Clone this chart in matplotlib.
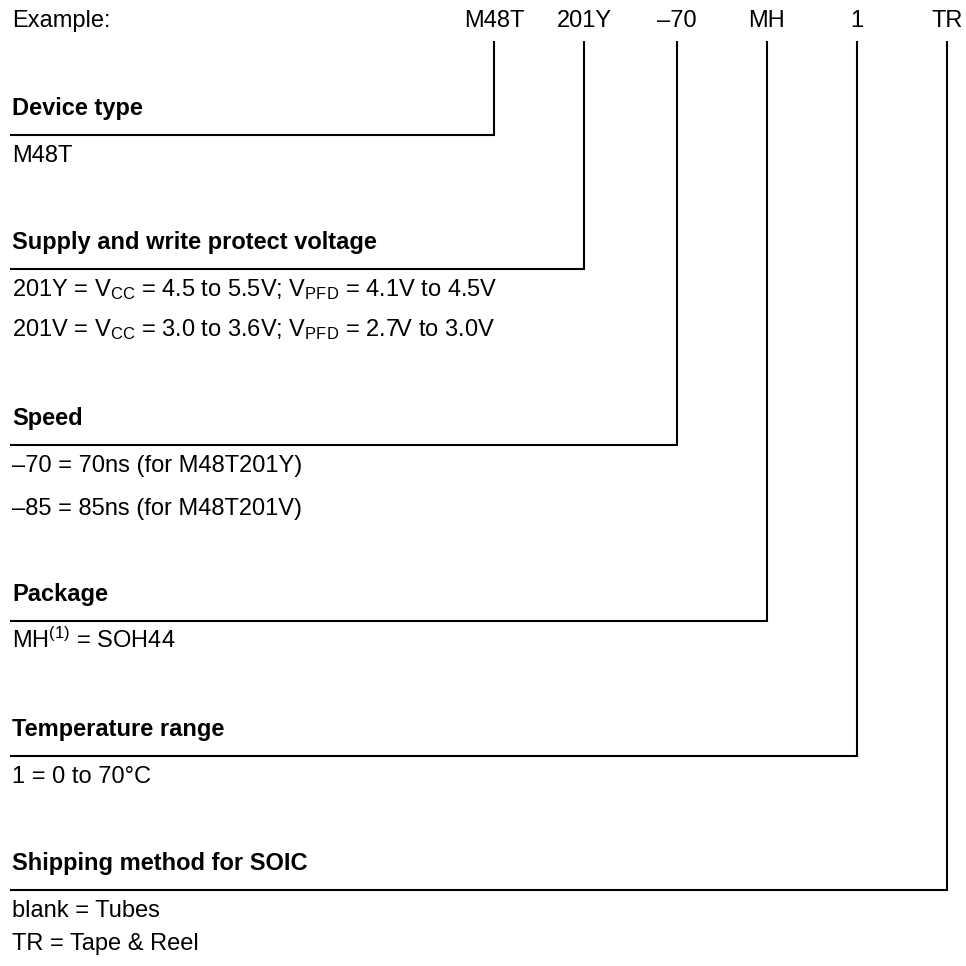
import matplotlib
matplotlib.use("Agg")
import matplotlib.pyplot as plt

# ---- content ----
example_label = "Example:"
codes = ["M48T", "201Y", "–70", "MH", "1", "TR"]
headings = [
    "Device type",
    "Supply and write protect voltage",
    "Speed",
    "Package",
    "Temperature range",
    "Shipping method for SOIC",
]
options = [
    ["M48T"],
    [r"201Y = V$_{\mathrm{CC}}$ = 4.5 to 5.5V; V$_{\mathrm{PFD}}$ = 4.1V to 4.5V",
     r"201V = V$_{\mathrm{CC}}$ = 3.0 to 3.6V; V$_{\mathrm{PFD}}$ = 2.7V to 3.0V"],
    ["–70 = 70ns (for M48T201Y)", "–85 = 85ns (for M48T201V)"],
    [r"MH$^{\mathrm{(1)}}$ = SOH44"],
    ["1 = 0 to 70°C"],
    ["blank = Tubes", "TR = Tape & Reel"],
]

# ---- layout (pixels, origin top-left) ----
W = H = 966
code_x = [494, 584, 677, 767, 857, 947]
bracket_y = [135, 269, 445, 621, 756, 890]
item_gap = [40, 40, 43, 40, 40, 33]
line_top = 41
left = 10
text_x = 12
fs = 17
lw = 1.5

plt.rcParams["font.family"] = ["Liberation Sans", "DejaVu Sans"]
plt.rcParams["mathtext.fontset"] = "custom"
plt.rcParams["mathtext.rm"] = "Liberation Sans"
plt.rcParams["mathtext.it"] = "Liberation Sans:italic"
plt.rcParams["mathtext.bf"] = "Liberation Sans:bold"

fig = plt.figure(figsize=(W / 100, H / 100), dpi=100)
ax = fig.add_axes([0, 0, 1, 1])
ax.set_xlim(0, W)
ax.set_ylim(H, 0)
ax.axis("off")

ax.text(text_x, 27, example_label, fontsize=fs, va="baseline", ha="left")
for cx, code in zip(code_x, codes):
    ax.text(cx, 27, code, fontsize=fs, va="baseline", ha="center")

for i, (cx, by, head, opts) in enumerate(zip(code_x, bracket_y, headings, options)):
    ax.plot([cx, cx, left], [line_top, by, by], color="black", lw=lw,
            solid_joinstyle="miter", solid_capstyle="butt")
    ax.text(text_x, by - 20, head, fontsize=fs, fontweight="bold",
            va="baseline", ha="left")
    for j, opt in enumerate(opts):
        ax.text(text_x, by + 27 + item_gap[i] * j, opt, fontsize=fs,
                va="baseline", ha="left")

fig.savefig("out.png", dpi=100, facecolor="white")
